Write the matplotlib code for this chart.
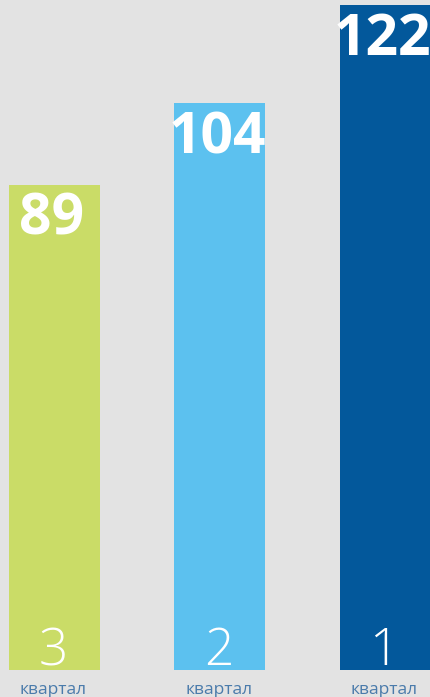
import matplotlib
matplotlib.use("Agg")
import matplotlib.pyplot as plt
import numpy as np

quarters = ["3", "2", "1"]
values = [89, 104, 122]
sub_label = "квартал"
colors = ["#cadc67", "#5cc1ef", "#03589b"]

plt.rcParams['font.family'] = ['Open Sans', 'DejaVu Sans']

fig = plt.figure(figsize=(4.30, 6.97), dpi=100)
fig.patch.set_facecolor("#e3e3e3")
ax = fig.add_axes([0, 27 / 697, 1, 670 / 697])
ax.set_facecolor("#e3e3e3")

x = np.arange(len(values))
bars = ax.bar(x, values, width=0.55, color=colors)
ax.set_xlim(-0.329, 2.269)
ax.set_ylim(0, 123)
ax.axis("off")

for xi, v, q, b in zip(x, values, quarters, bars):
    ax.annotate(str(v), (xi, v), xytext=(-2, -4), textcoords="offset points",
                ha="center", va="top", color="white", fontsize=41,
                fontweight="bold", clip_on=False)
    ax.annotate(q, (xi, 0), xytext=(-1, 3.6), textcoords="offset points",
                ha="center", va="baseline", color="white", fontsize=37,
                fontweight="light")
    ax.annotate(sub_label, (xi, 0), xytext=(-1, -17.5), textcoords="offset points",
                ha="center", va="baseline", color="#4a7bab", fontsize=12.5)

fig.savefig("out.png", dpi=100, facecolor=fig.get_facecolor())
